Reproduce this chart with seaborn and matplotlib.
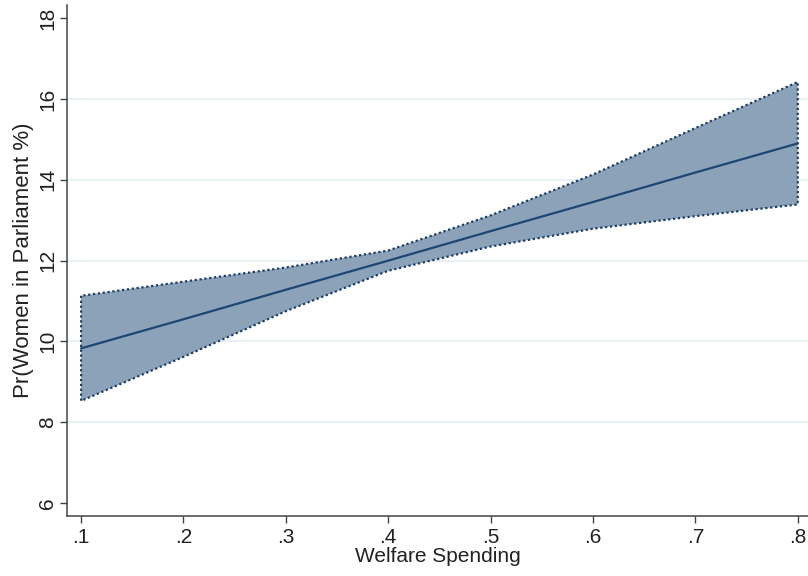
import numpy as np
import pandas as pd
import seaborn as sns
import matplotlib.pyplot as plt

plt.switch_backend("Agg")

# predicted margins
welfare = [0.1, 0.2, 0.3, 0.4, 0.5, 0.6, 0.7, 0.8]
predicted = [9.83, 10.55, 11.28, 12.00, 12.73, 13.45, 14.18, 14.90]
ci_upper = [11.13, 11.48, 11.83, 12.25, 13.12, 14.13, 15.28, 16.42]
ci_lower = [8.53, 9.62, 10.75, 11.75, 12.35, 12.79, 13.10, 13.39]

x_ticks = [0.1, 0.2, 0.3, 0.4, 0.5, 0.6, 0.7, 0.8]
x_labels = [".1", ".2", ".3", ".4", ".5", ".6", ".7", ".8"]
y_ticks = [6, 8, 10, 12, 14, 16, 18]
grid_lines = [8, 10, 12, 14, 16]

FILL = "#8ca2b8"
EDGE = "#1c3d63"
LINE = "#1d4673"

df = pd.DataFrame({"welfare": welfare, "predicted": predicted,
                   "upper": ci_upper, "lower": ci_lower})

sns.set_style("white")
plt.rcParams["font.family"] = ["Liberation Sans", "DejaVu Sans"]

fig = plt.figure(figsize=(8.08, 5.76), dpi=100)
ax = fig.add_axes([0.083, 0.104, 0.917, 0.887])

for g in grid_lines:
    ax.axhline(g, color="#e3edf1", lw=1.2, zorder=0)

ax.fill_between(df["welfare"], df["lower"], df["upper"], facecolor=FILL,
                edgecolor=EDGE, linestyle=(0, (1, 1.2)), linewidth=1.6, zorder=2)
sns.lineplot(data=df, x="welfare", y="predicted", color=LINE, lw=1.6, ax=ax, zorder=3)

ax.set_xlim(0.0863, 0.81)
ax.set_ylim(5.68, 18.32)
ax.set_xticks(x_ticks)
ax.set_xticklabels(x_labels)
ax.set_yticks(y_ticks)
ax.set_yticklabels([str(v) for v in y_ticks], rotation=90, va="center")

ax.set_xlabel("Welfare Spending", fontsize=15, color="#222222", labelpad=0)
ax.set_ylabel("Pr(Women in Parliament %)", fontsize=16, color="#222222", labelpad=3)
ax.tick_params(axis="both", direction="out", length=5, width=1, color="#444444",
               labelsize=15, labelcolor="#222222", bottom=True, left=True)
ax.tick_params(axis="y", pad=2)

sns.despine(ax=ax)
for s in ("left", "bottom"):
    ax.spines[s].set_color("#444444")
    ax.spines[s].set_linewidth(1.1)

fig.savefig("out.png", dpi=100)
plt.close(fig)
